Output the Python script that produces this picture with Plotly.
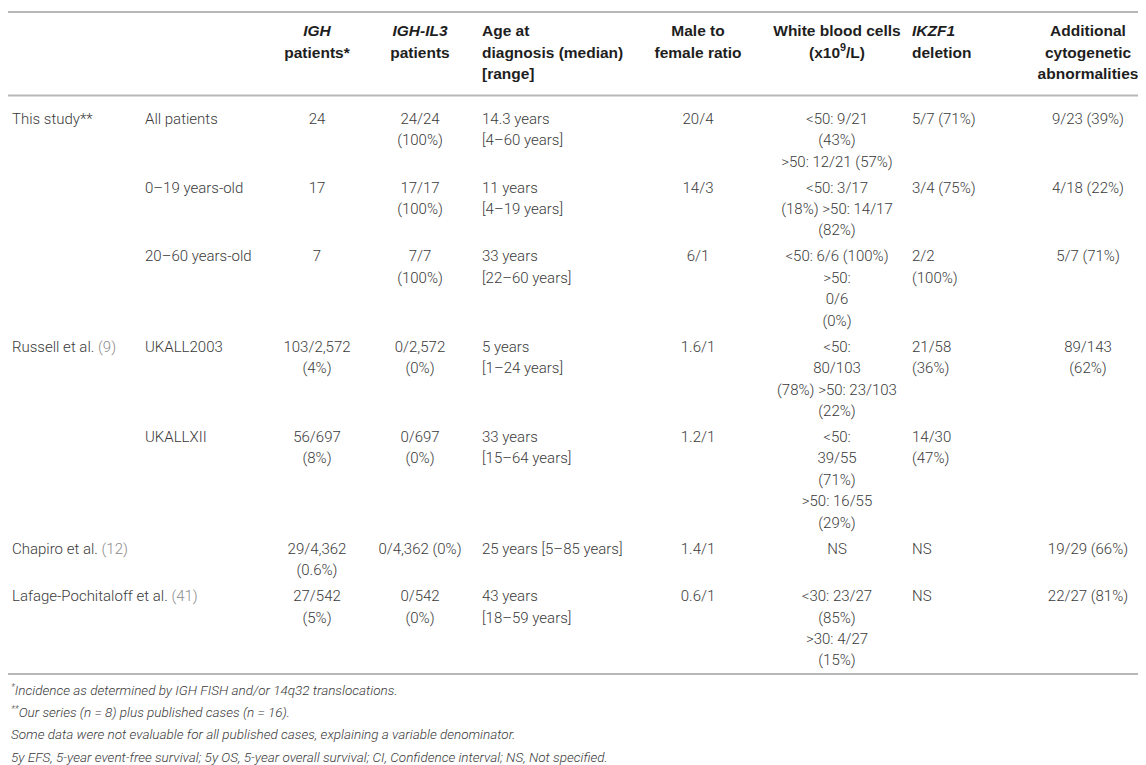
import re

import plotly.graph_objects as go

# ---- table content (one list per column, "\n" = line break in the cell) ----
headers = [
    "",
    "",
    "IGH\npatients*",
    "IGH-IL3\npatients",
    "Age at\ndiagnosis (median)\n[range]",
    "Male to\nfemale ratio",
    "White blood cells\n(x10<sup>9</sup>/L)",
    "IKZF1\ndeletion",
    "Additional\ncytogenetic\nabnormalities",
]

study = [
    "This study**",
    "",
    "",
    "Russell et al. (9)",
    "",
    "Chapiro et al. (12)",
    "Lafage-Pochitaloff et al. (41)",
]
cohort = [
    "All patients",
    "0–19 years-old",
    "20–60 years-old",
    "UKALL2003",
    "UKALLXII",
    "",
    "",
]
igh_patients = [
    "24",
    "17",
    "7",
    "103/2,572\n(4%)",
    "56/697\n(8%)",
    "29/4,362\n(0.6%)",
    "27/542\n(5%)",
]
igh_il3_patients = [
    "24/24\n(100%)",
    "17/17\n(100%)",
    "7/7\n(100%)",
    "0/2,572\n(0%)",
    "0/697\n(0%)",
    "0/4,362 (0%)",
    "0/542\n(0%)",
]
age_at_diagnosis = [
    "14.3 years\n[4–60 years]",
    "11 years\n[4–19 years]",
    "33 years\n[22–60 years]",
    "5 years\n[1–24 years]",
    "33 years\n[15–64 years]",
    "25 years [5–85 years]",
    "43 years\n[18–59 years]",
]
male_female_ratio = ["20/4", "14/3", "6/1", "1.6/1", "1.2/1", "1.4/1", "0.6/1"]
white_blood_cells = [
    "<50: 9/21\n(43%)\n>50: 12/21 (57%)",
    "<50: 3/17\n(18%) >50: 14/17\n(82%)",
    "<50: 6/6 (100%)\n>50:\n0/6\n(0%)",
    "<50:\n80/103\n(78%) >50: 23/103\n(22%)",
    "<50:\n39/55\n(71%)\n>50: 16/55\n(29%)",
    "NS",
    "<30: 23/27\n(85%)\n>30: 4/27\n(15%)",
]
ikzf1_deletion = [
    "5/7 (71%)",
    "3/4 (75%)",
    "2/2\n(100%)",
    "21/58\n(36%)",
    "14/30\n(47%)",
    "NS",
    "NS",
]
additional_abnormalities = [
    "9/23 (39%)",
    "4/18 (22%)",
    "5/7 (71%)",
    "89/143\n(62%)",
    "",
    "19/29 (66%)",
    "22/27 (81%)",
]

footnotes = [
    "<sup>*</sup>Incidence as determined by IGH FISH and/or 14q32 translocations.",
    "<sup>**</sup>Our series (n = 8) plus published cases (n = 16).",
    "Some data were not evaluable for all published cases, explaining a variable denominator.",
    "5y EFS, 5-year event-free survival; 5y OS, 5-year overall survival; "
    "CI, Confidence interval; NS, Not specified.",
]

columns = [
    study,
    cohort,
    igh_patients,
    igh_il3_patients,
    age_at_diagnosis,
    male_female_ratio,
    white_blood_cells,
    ikzf1_deletion,
    additional_abnormalities,
]

# ---- layout / style ----
W, H = 1146, 765
FONT = "Roboto"
HEAD_FONT = "Liberation Sans"
TEXT_COLOR = "#3a3a3a"
HEAD_COLOR = "#1e1e1e"
CITE_COLOR = "#8c8c8c"
RULE_COLOR = "#b8b8b8"

# column anchor (left edge or centre) and alignment
col_x = [4, 137, 309, 412, 474, 690, 829, 904, 1080]
col_align = ["left", "left", "center", "center", "left", "center", "center", "left", "center"]

BODY_PX, BODY_LINE = 15, 16.5   # glyph size / size that sets the line pitch
HEAD_PX, HEAD_LINE = 15.5, 17
FOOT_PX, FOOT_LINE = 13.5, 17
PITCH = 1.3 * BODY_LINE
ROW_GAP = 4.5

TOP_RULE = 4
HEAD_RULE = 87.5
BODY_TOP = HEAD_RULE + 15.8
HEAD_TOP = 15.7
FOOT_TOP = 674.5

GENES = re.compile(r"(IGH-IL3|IGH|IKZF1)")
CITATION = re.compile(r"(\(\d+\))$")
SUP = re.compile(r"<sup>(.*?)</sup>")


def escape(s):
    return s.replace("<", "&lt;").replace(">", "&gt;")


def sized_sup(s, px):
    # give superscripts an explicit size of their own
    return SUP.sub(r'<sup><span style="font-size:%spx">\1</span></sup>' % round(px * 0.7, 1), s)


def body_text(s):
    lines = []
    for line in s.split("\n"):
        line = CITATION.sub(
            r'<span style="font-size:%spx;color:%s">\1</span>' % (BODY_PX, CITE_COLOR),
            escape(line),
        )
        lines.append('<span style="font-size:%spx">%s</span>' % (BODY_PX, line))
    return "<br>".join(lines)


def head_text(s):
    lines = []
    for line in s.split("\n"):
        line = sized_sup(GENES.sub(r"<i>\1</i>", line), HEAD_PX)
        lines.append(
            '<span style="font-size:%spx;font-family:%s;color:%s"><b>%s</b></span>'
            % (HEAD_PX, HEAD_FONT, HEAD_COLOR, line)
        )
    return "<br>".join(lines)


# row tops from the number of lines in each row
n_rows = len(study)
row_lines = [max(len(col[r].split("\n")) for col in columns) for r in range(n_rows)]
row_top = []
y = BODY_TOP
for n in row_lines:
    row_top.append(y)
    y += n * PITCH + ROW_GAP
BOTTOM_RULE = y - 5

fig = go.Figure()

for c, col in enumerate(columns):
    ys, texts = [], []
    if headers[c]:
        ys.append(HEAD_TOP)
        texts.append(head_text(headers[c]))
    for r, v in enumerate(col):
        if v:
            ys.append(row_top[r])
            texts.append(body_text(v))
    pos = "bottom right" if col_align[c] == "left" else "bottom center"
    fig.add_trace(
        go.Scatter(
            x=[col_x[c]] * len(ys),
            y=ys,
            mode="text",
            text=texts,
            textposition=pos,
            textfont=dict(family=FONT, size=BODY_LINE, color=TEXT_COLOR, weight=300),
            hoverinfo="skip",
        )
    )

# footnotes under the table
foot = "<br>".join(
    '<span style="font-size:%spx"><i>%s</i></span>' % (FOOT_PX, sized_sup(f, FOOT_PX))
    for f in footnotes
)
fig.add_trace(
    go.Scatter(
        x=[3],
        y=[FOOT_TOP],
        mode="text",
        text=[foot],
        textposition="bottom right",
        textfont=dict(family=FONT, size=FOOT_LINE, color=TEXT_COLOR, weight=300),
        hoverinfo="skip",
    )
)

for ry in (TOP_RULE, HEAD_RULE, BOTTOM_RULE):
    fig.add_shape(
        type="line", xref="x", yref="y", x0=0, x1=1142, y0=ry, y1=ry,
        line=dict(color=RULE_COLOR, width=2),
    )

fig.update_layout(
    width=W,
    height=H,
    margin=dict(l=0, r=0, t=0, b=0),
    paper_bgcolor="white",
    plot_bgcolor="white",
    showlegend=False,
    xaxis=dict(range=[0, W], visible=False, fixedrange=True),
    yaxis=dict(range=[H, 0], visible=False, fixedrange=True),
)

fig.write_html("out.html")
